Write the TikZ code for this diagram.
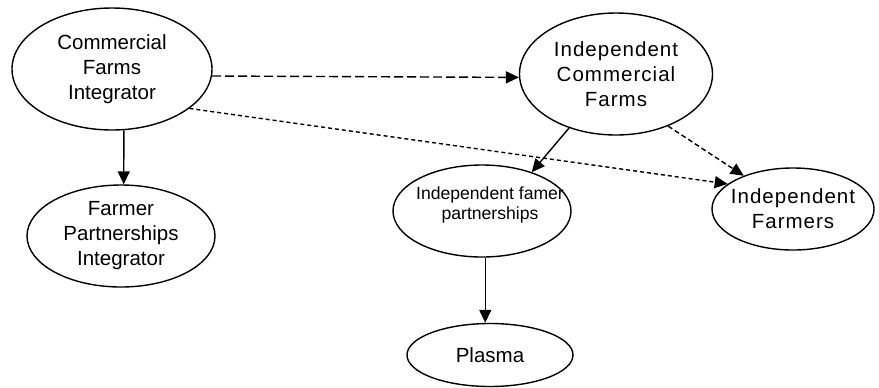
\documentclass[tikz,border=0pt]{standalone}
\usepackage{fontspec}
\setmainfont{Liberation Sans}
\usetikzlibrary{positioning,arrows.meta,shapes.geometric}

\begin{document}
\begin{tikzpicture}[>={Triangle[length=6.5pt,width=6pt]},x=0.5pt,y=-0.5pt,line width=0.7pt,
  oval/.style={draw,ellipse,inner sep=0pt},
  lbl/.style={align=center,font=\fontsize{10.25}{12.5}\selectfont},
  lblwide/.style={lbl,font=\fontsize{10.25}{12.5}\selectfont\addfontfeature{LetterSpace=5}},
  lblsmall/.style={align=center,font=\fontsize{8.8}{10}\selectfont}]
  \useasboundingbox (0,0) rectangle (879,387);
  % ellipses
  \node[oval,minimum width=100pt,minimum height=61pt] (cfi) at (112,69) {};
  \node[oval,minimum width=94pt,minimum height=51pt] (fpi) at (121,236) {};
  \node[oval,minimum width=96.5pt,minimum height=61pt] (icf) at (616,74) {};
  \node[oval,minimum width=89pt,minimum height=46pt] (ifp) at (482,211) {};
  \node[oval,minimum width=81pt,minimum height=41pt] (indf) at (793,209) {};
  \node[oval,minimum width=83pt,minimum height=31.5pt] (plasma) at (490,355) {};
  % texts
  \node[lbl] (cfi-txt) at (cfi) {Commercial\\Farms\\Integrator};
  \node[lbl] (fpi-txt) at (fpi) {Farmer\\Partnerships\\Integrator};
  \node[lblwide] (icf-txt) at (icf) {Independent\\Commercial\\Farms};
  \node[lblsmall] (ifp-txt) at (490,205) {Independent famer\\partnerships};
  \node[lblwide] (indf-txt) at (indf) {Independent\\Farmers};
  \node[lbl] (plasma-txt) at (plasma) {Plasma};
  % links
  \draw[->] (cfi.-79) -- (fpi.87);
  \draw[->,dash pattern=on 4.5pt off 2pt] (cfi.-4) -- (icf.182);
  \draw[->,dash pattern=on 2pt off 1.5pt] (cfi.-27) -- (indf.159);
  \draw[->] (icf.-131) -- (ifp.38);
  \draw[->,dash pattern=on 2.5pt off 1.5pt] (icf.-45) -- (indf.146);
  \draw[->] (ifp.-86) -- (ifp.-86 |- plasma.north);
\end{tikzpicture}
\end{document}
